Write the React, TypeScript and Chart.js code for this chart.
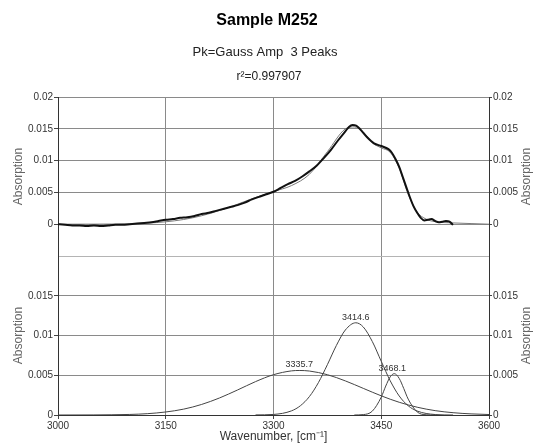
import React, { useEffect, useRef } from 'react';
import { Chart, registerables } from 'chart.js';

Chart.register(...registerables);

// ---- Data ----
const dataWave = [3000, 3010, 3020, 3030, 3040, 3050, 3060, 3070, 3080, 3090, 3100, 3110, 3120, 3130, 3140, 3150, 3160, 3170, 3180, 3190, 3200, 3210, 3220, 3230, 3240, 3250, 3260, 3270, 3280, 3290, 3300, 3310, 3320, 3330, 3340, 3350, 3360, 3370, 3380, 3390, 3400, 3405, 3410, 3415, 3420, 3430, 3440, 3450, 3460, 3465, 3470, 3475, 3480, 3485, 3490, 3495, 3500, 3505, 3510, 3515, 3520, 3525, 3530, 3535, 3540, 3545, 3550];
const dataAbs = [0.0, -0.0001, -0.0002, -0.0002, -0.0003, -0.0002, -0.0003, -0.0002, -0.0001, -0.0001, 0.0, 0.0001, 0.0002, 0.0003, 0.0005, 0.0007, 0.0008, 0.001, 0.0011, 0.0013, 0.0016, 0.0018, 0.0021, 0.0024, 0.0027, 0.003, 0.0034, 0.0039, 0.0043, 0.0047, 0.0051, 0.0057, 0.0063, 0.0068, 0.0075, 0.0083, 0.0092, 0.0104, 0.0117, 0.0132, 0.0146, 0.0153, 0.0156, 0.0155, 0.015, 0.0137, 0.0127, 0.0123, 0.0118, 0.0112, 0.0102, 0.009, 0.0074, 0.0058, 0.0042, 0.0028, 0.0018, 0.001, 0.0006, 0.0007, 0.0008, 0.0005, 0.0003, 0.0004, 0.0005, 0.0004, -0.0001];

const fitWave = [3000, 3050, 3100, 3125, 3150, 3175, 3200, 3225, 3250, 3275, 3300, 3325, 3350, 3375, 3400, 3412.5, 3425, 3437.5, 3450, 3462.5, 3475, 3487.5, 3500, 3512.5, 3525, 3550, 3575, 3600];
const fitAbs = [0.0, 0.00001, 0.00007, 0.00017, 0.00038, 0.00074, 0.00133, 0.00215, 0.00315, 0.00421, 0.00514, 0.00607, 0.00785, 0.0114, 0.01498, 0.0153, 0.0145, 0.0128, 0.012, 0.0113, 0.0088, 0.0047, 0.0019, 0.0008, 0.0004, 0.0002, 0.0001, 0.0];

const peak1Wave = [3000, 3050, 3075, 3100, 3125, 3150, 3175, 3200, 3225, 3250, 3275, 3300, 3325, 3335.7, 3350, 3375, 3400, 3425, 3450, 3475, 3500, 3525, 3550, 3575, 3600];
const peak1Abs = [0.0, 0.00001, 0.00003, 0.00007, 0.00017, 0.00038, 0.00074, 0.00133, 0.00215, 0.00315, 0.0042, 0.00507, 0.00555, 0.0056, 0.00553, 0.00507, 0.00429, 0.00335, 0.00241, 0.0016, 0.00098, 0.00055, 0.00029, 0.00014, 0.00006];

const peak2Wave = [3275, 3300, 3325, 3337.5, 3350, 3362.5, 3375, 3387.5, 3400, 3414.6, 3425, 3437.5, 3450, 3462.5, 3475, 3487.5, 3500, 3525, 3550];
const peak2Abs = [0.00001, 0.00007, 0.00052, 0.00117, 0.00232, 0.00407, 0.00633, 0.00874, 0.01069, 0.0116, 0.01107, 0.00925, 0.00675, 0.0043, 0.00239, 0.00116, 0.0005, 0.00006, 0.0];

const peak3Wave = [3412.5, 3425, 3437.5, 3450, 3456.25, 3462.5, 3468.1, 3475, 3481.25, 3487.5, 3500, 3512.5, 3525];
const peak3Abs = [0.0, 0.00005, 0.00048, 0.00225, 0.00364, 0.0048, 0.0052, 0.0046, 0.00335, 0.002, 0.00039, 0.00003, 0.0];

const peakCenters = [3335.7, 3414.6, 3468.1];
const peakHeights = [0.0056, 0.0116, 0.0052];
const peakLabels = ['3335.7', '3414.6', '3468.1'];

const xTickLabels = [3000, 3150, 3300, 3450, 3600];
const topTickLabels = [0, 0.005, 0.01, 0.015, 0.02];
const bottomTickLabels = [0, 0.005, 0.01, 0.015];

const titleText = 'Sample M252';
const subtitleText = 'Pk=Gauss Amp  3 Peaks';
const r2Text = 'r²=0.997907';
const yTitle = 'Absorption';
const xTitle = 'Wavenumber, [cm⁻¹]';

const FONT = "'Liberation Sans', Arial, sans-serif";

const pts = (xs: number[], ys: number[]) => xs.map((x, i) => ({ x, y: ys[i] }));

const near = (v: number, list: number[]) => list.some((t) => Math.abs(t - v) < 1e-7);
const fmt = (v: number) => String(Math.round(v * 1000) / 1000);

const headerPlugin = {
  id: 'header',
  afterDraw(chart: any) {
    const ctx = chart.ctx;
    ctx.save();
    ctx.fillStyle = '#000';
    ctx.textAlign = 'center';
    ctx.textBaseline = 'middle';
    ctx.font = `bold 16px ${FONT}`;
    ctx.fillText(titleText, 267, 21);
    ctx.fillStyle = '#222';
    ctx.font = `13px ${FONT}`;
    ctx.fillText(subtitleText, 265, 52);
    ctx.font = `12px ${FONT}`;
    ctx.fillText(r2Text, 269, 77);
    ctx.restore();
  },
};

// Right-side axis titles read bottom-to-top, like the left ones
const rightTitlePlugin = {
  id: 'rightTitles',
  afterDraw(chart: any) {
    const ctx = chart.ctx;
    ctx.save();
    ctx.fillStyle = '#666';
    ctx.font = `12px ${FONT}`;
    ctx.textAlign = 'center';
    ctx.textBaseline = 'middle';
    ['yTopR', 'yBotR'].forEach((id) => {
      const s = chart.scales[id];
      const cy = (s.top + s.bottom) / 2;
      const cx = s.right - 7;
      ctx.save();
      ctx.translate(cx, cy);
      ctx.rotate(-Math.PI / 2);
      ctx.fillText(yTitle, 0, 0);
      ctx.restore();
    });
    ctx.restore();
  },
};

const peakLabelPlugin = {
  id: 'peakLabels',
  afterDatasetsDraw(chart: any) {
    const ctx = chart.ctx;
    const xs = chart.scales.x;
    const ys = chart.scales.yBot;
    ctx.save();
    ctx.fillStyle = '#333';
    ctx.font = `9px ${FONT}`;
    ctx.textAlign = 'center';
    ctx.textBaseline = 'bottom';
    peakLabels.forEach((lab, i) => {
      const px = xs.getPixelForValue(peakCenters[i]);
      const py = ys.getPixelForValue(peakHeights[i]);
      ctx.fillText(lab, px - (i === 2 ? 2 : 0), py - 1);
    });
    ctx.restore();
  },
};

const tickFont = { family: FONT, size: 10 };
const titleFont = { family: FONT, size: 12 };

function yAxis(opts: {
  position: 'left' | 'right';
  min: number;
  labels: number[];
  weight: number;
  lightValue: number;
}) {
  const left = opts.position === 'left';
  return {
    type: 'linear',
    position: opts.position,
    stack: opts.position,
    stackWeight: 1,
    weight: opts.weight,
    min: opts.min,
    max: opts.min + 0.025 - (opts.min < 0 ? 0 : 0.005),
    afterFit: (s: any) => {
      s.width = left ? 58 : 45;
    },
    ticks: {
      stepSize: 0.005,
      color: '#333',
      font: tickFont,
      padding: 1,
      callback: (v: number) => (near(v, opts.labels) ? fmt(v) : ''),
    },
    grid: {
      drawOnChartArea: left,
      tickLength: left ? 4 : 3,
      color: (c: any) =>
        c.tick && Math.abs(c.tick.value - opts.lightValue) < 1e-7 ? '#b4b4b4' : '#8a8a8a',
      tickColor: (c: any) => (c.tick && near(c.tick.value, opts.labels) ? '#444' : 'rgba(0,0,0,0)'),
    },
    border: { display: true, color: '#333' },
    title: {
      display: left,
      text: yTitle,
      color: '#666',
      font: titleFont,
      padding: { top: 11, bottom: 0 },
    },
  };
}

export default function App() {
  const ref = useRef<HTMLCanvasElement | null>(null);

  useEffect(() => {
    if (!ref.current) return;
    const lineBase = {
      pointRadius: 0,
      fill: false,
      cubicInterpolationMode: 'monotone' as const,
    };
    const chart = new Chart(ref.current, {
      type: 'line',
      data: {
        datasets: [
          { ...lineBase, label: 'data', data: pts(dataWave, dataAbs), yAxisID: 'yTop', borderColor: '#111', borderWidth: 2 },
          { ...lineBase, label: 'fit', data: pts(fitWave, fitAbs), yAxisID: 'yTop', borderColor: '#7a7a7a', borderWidth: 1 },
          { ...lineBase, label: 'p1', data: pts(peak1Wave, peak1Abs), yAxisID: 'yBot', borderColor: '#444', borderWidth: 1 },
          { ...lineBase, label: 'p2', data: pts(peak2Wave, peak2Abs), yAxisID: 'yBot', borderColor: '#444', borderWidth: 1 },
          { ...lineBase, label: 'p3', data: pts(peak3Wave, peak3Abs), yAxisID: 'yBot', borderColor: '#444', borderWidth: 1 },
        ],
      },
      options: {
        responsive: false,
        animation: false,
        events: [],
        layout: { padding: { top: 97, left: 0, right: 0, bottom: 0 } },
        plugins: {
          legend: { display: false },
          title: { display: false },
          tooltip: { enabled: false },
        },
        scales: {
          x: {
            type: 'linear',
            min: 3000,
            max: 3600,
            afterFit: (s: any) => {
              s.height = 31;
            },
            ticks: {
              stepSize: 150,
              color: '#333',
              font: tickFont,
              padding: 1,
              maxRotation: 0,
              autoSkip: false,
              callback: (v: number) => (near(v, xTickLabels) ? String(v) : ''),
            },
            grid: { color: '#8a8a8a', tickLength: 4, tickColor: '#444' },
            border: { display: true, color: '#333' },
            title: {
              display: true,
              text: xTitle,
              color: '#333',
              font: titleFont,
              padding: { top: 0, bottom: 2 },
            },
          },
          yTop: yAxis({ position: 'left', min: -0.005, labels: topTickLabels, weight: 2, lightValue: -0.005 }),
          yBot: yAxis({ position: 'left', min: 0, labels: bottomTickLabels, weight: 1, lightValue: 0.02 }),
          yTopR: yAxis({ position: 'right', min: -0.005, labels: topTickLabels, weight: 1, lightValue: -0.005 }),
          yBotR: yAxis({ position: 'right', min: 0, labels: bottomTickLabels, weight: 2, lightValue: 0.02 }),
        } as any,
      },
      plugins: [headerPlugin, peakLabelPlugin, rightTitlePlugin],
    });
    return () => chart.destroy();
  }, []);

  return (
    <div style={{ position: 'absolute', left: 0, top: 0, width: 534, height: 446, background: '#fff' }}>
      <canvas ref={ref} width={534} height={446} style={{ display: 'block' }} />
    </div>
  );
}
